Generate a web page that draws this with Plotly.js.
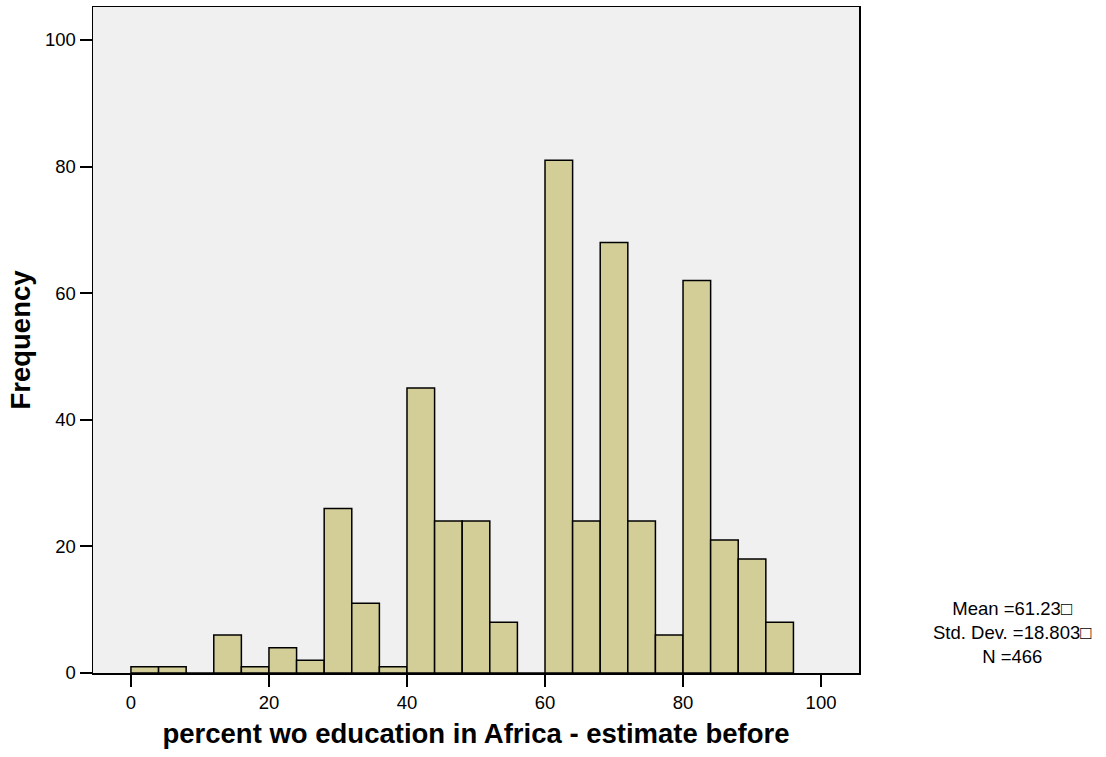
<!DOCTYPE html>
<html>
<head>
<meta charset="utf-8">
<script src="https://cdn.plot.ly/plotly-3.0.1.min.js"></script>
<style>html,body{margin:0;padding:0;background:#fff;}#chart{width:1106px;height:757px;}</style>
</head>
<body>
<div id="chart"></div>
<script>
const binStarts = [0,4,8,12,16,20,24,28,32,36,40,44,48,52,56,60,64,68,72,76,80,84,88,92];
const counts    = [1,1,0,6,1,4,2,26,11,1,45,24,24,8,0,81,24,68,24,6,62,21,18,8];
const binWidth = 4;
const xTicks = [0,20,40,60,80,100];
const yTicks = [0,20,40,60,80,100];
const statsLines = ["Mean =61.23\u25a1", "Std. Dev. =18.803\u25a1", "N =466"];

const FONT = 'Liberation Sans, Arial, sans-serif';
const xs = binStarts.map(b => b + binWidth/2);
const trace = {
  type: 'bar',
  x: xs,
  y: counts,
  width: binStarts.map(() => binWidth),
  marker: {color: '#d3ce98', line: {color: '#000', width: 1.5}},
  hoverinfo: 'x+y'
};
const layout = {
  width: 1106, height: 757,
  margin: {l: 93, r: 247, t: 7, b: 84},
  paper_bgcolor: '#fff',
  plot_bgcolor: '#f0f0f0',
  font: {family: FONT, color: '#000', size: 18},
  showlegend: false,
  bargap: 0,
  xaxis: {
    range: [-5.5, 105.5], tickvals: xTicks, ticktext: xTicks.map(String),
    ticks: 'outside', ticklen: 12, tickwidth: 2, tickcolor: '#000',
    showgrid: false, zeroline: false, showline: true, linecolor: '#000', linewidth: 1.5, mirror: true,
    tickfont: {size: 18.5},
    automargin: false,
    title: {text: 'percent wo education in Africa - estimate before', font: {size: 27.5, family: FONT, weight: 'bold'}, standoff: 12}
  },
  yaxis: {
    range: [0, 105.2], tickvals: yTicks, ticktext: yTicks.map(String),
    ticks: 'outside', ticklen: 12, tickwidth: 2, tickcolor: '#000',
    showgrid: false, zeroline: false, showline: true, linecolor: '#000', linewidth: 1.5, mirror: true,
    tickfont: {size: 18.5},
    automargin: false,
    title: {text: 'Frequency', font: {size: 27.5, family: FONT, weight: 'bold'}, standoff: 6}
  },
  annotations: [{
    xref: 'paper', yref: 'paper', x: 1.1997, y: 0.0608, xanchor: 'center', yanchor: 'middle',
    text: statsLines.join('<br>'), showarrow: false, align: 'center',
    font: {size: 18.5, family: FONT}
  }]
};
Plotly.newPlot('chart', [trace], layout, {displayModeBar: false, staticPlot: true});
</script>
</body>
</html>
